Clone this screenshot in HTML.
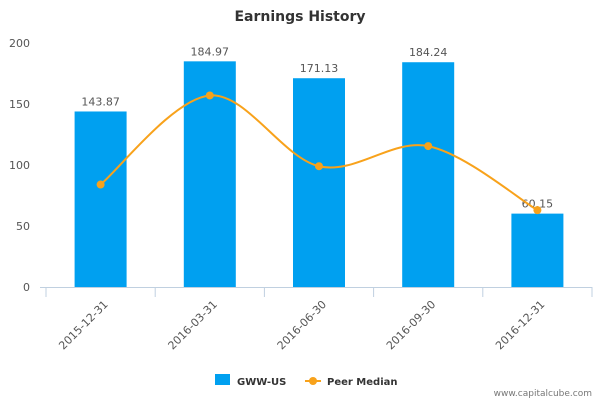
<!DOCTYPE html>
<html><head><meta charset="utf-8"><style>
body{margin:0;background:#fff;font-family:"Liberation Sans","DejaVu Sans",sans-serif}
svg text{font-family:"DejaVu Sans","Liberation Sans",sans-serif}
</style></head><body>
<svg id="chart" width="600" height="400">
<text x="300" y="21" text-anchor="middle" font-size="14" fill="#333" font-weight="bold">Earnings History</text>
<g id="grid"></g><g id="bars"></g><g id="line"></g>
<g>
<rect x="215" y="374" width="15" height="11" fill="#00a0f0"/>
<text x="237" y="385" font-size="10" font-weight="bold" fill="#333">GWW-US</text>
<line x1="305" y1="381" x2="321" y2="381" stroke="#f8a21b" stroke-width="2"/>
<circle cx="313" cy="381" r="4" fill="#f8a21b"/>
<text x="327" y="385" font-size="10" font-weight="bold" fill="#333">Peer Median</text>
</g>
<text x="592" y="396" text-anchor="end" font-size="9" fill="#777">www.capitalcube.com</text>
</svg>
<script>
const categories=["2015-12-31","2016-03-31","2016-06-30","2016-09-30","2016-12-31"];
const gwwValues=[143.87,184.97,171.13,184.24,60.15];
const peerValues=[84,157,99,115.5,63];
const yTicks=[0,50,100,150,200];
const NS="http://www.w3.org/2000/svg";
const x0=46,x1=592,yBase=287,yTop=43,yMax=200;
const bw=(x1-x0)/categories.length;
const xc=i=>x0+bw*(i+0.5);
const y=v=>yBase-(v/yMax)*(yBase-yTop);
function mk(tag,attrs,parent,txt){const e=document.createElementNS(NS,tag);for(const k in attrs)e.setAttribute(k,attrs[k]);if(txt!==undefined)e.textContent=txt;parent.appendChild(e);return e;}
const grid=document.getElementById('grid'),bars=document.getElementById('bars'),line=document.getElementById('line');
yTicks.forEach(t=>{const e=mk('text',{x:30,y:y(t)+4,'text-anchor':'end','font-size':11,fill:'#555'},grid,String(t));

});
const ax=mk('line',{x1:x0-6,y1:yBase+0.5,x2:x1,y2:yBase+0.5,stroke:'#c0d0e0'},grid);


for(let i=0;i<=categories.length;i++){const t=mk('line',{x1:x0+bw*i,y1:yBase,x2:x0+bw*i,y2:yBase+10,stroke:'#c0d0e0'},grid);

}
categories.forEach((c,i)=>{const tx=xc(i)+8,ty=yBase+18;
const e=mk('text',{x:tx,y:ty,'text-anchor':'end','font-size':11,fill:'#555',transform:`rotate(-45 ${tx} ${ty})`},grid,c);


const r=mk('rect',{x:xc(i)-26,y:y(gwwValues[i]),width:52,height:yBase-y(gwwValues[i]),fill:'#00a0f0'},bars);


const l=mk('text',{x:xc(i),y:y(gwwValues[i])-6,'text-anchor':'middle','font-size':11,fill:'#555'},bars,gwwValues[i].toFixed(2));

});
const pts=peerValues.map((v,i)=>[xc(i),y(v)]);
let d=`M${pts[0][0]},${pts[0][1]}`;
for(let i=0;i<pts.length-1;i++){const p0=pts[Math.max(i-1,0)],p1=pts[i],p2=pts[i+1],p3=pts[Math.min(i+2,pts.length-1)];
const c1=[p1[0]+(p2[0]-p0[0])/6,p1[1]+(p2[1]-p0[1])/6],c2=[p2[0]-(p3[0]-p1[0])/6,p2[1]-(p3[1]-p1[1])/6];
d+=` C${c1[0]},${c1[1]} ${c2[0]},${c2[1]} ${p2[0]},${p2[1]}`;}
const pl=mk('path',{d:d,fill:'none',stroke:'#f8a21b','stroke-width':2},line);


pts.forEach(p=>{const c=mk('circle',{cx:p[0],cy:p[1],r:4,fill:'#f8a21b'},line);

});
</script>
</body></html>
